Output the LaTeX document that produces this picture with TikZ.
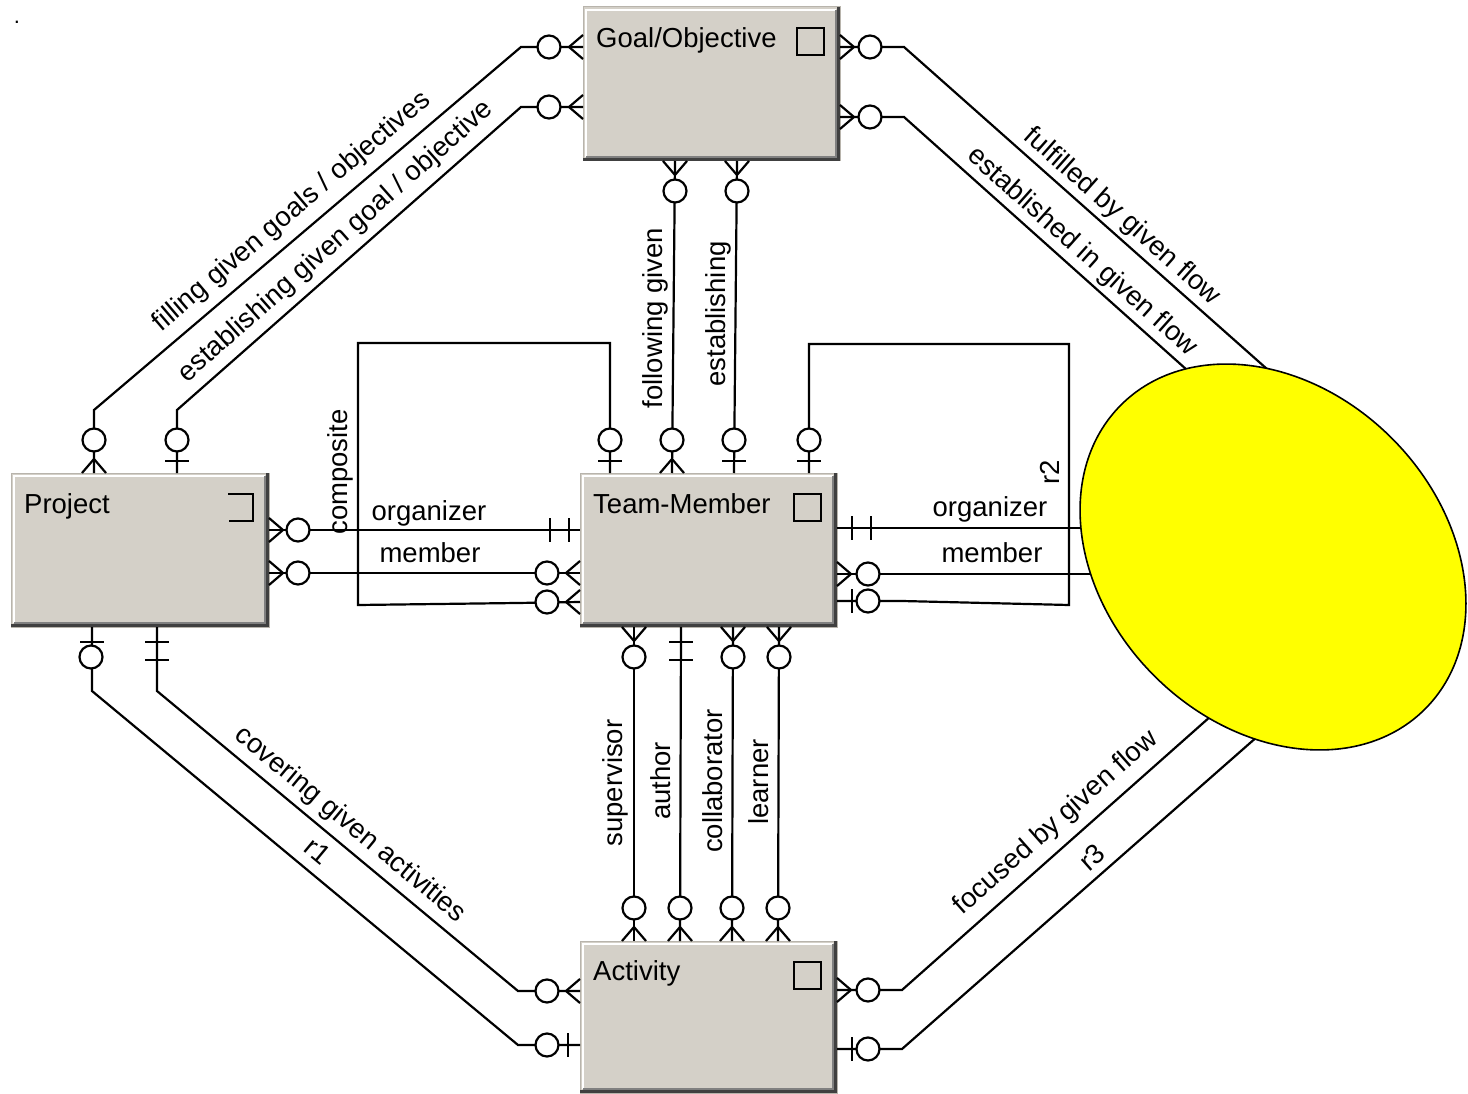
\documentclass[tikz,border=0pt]{standalone}
\usepackage{fontspec}
\setmainfont{Liberation Sans}
\usetikzlibrary{shapes.geometric}
\definecolor{boxgray}{HTML}{D4D0C8}
\definecolor{boxedge}{HTML}{B8B4AC}
\definecolor{bevdark}{HTML}{404040}
\definecolor{bevmid}{HTML}{808080}
\definecolor{flowfill}{HTML}{FFFF00}

% crow's feet whose toes sit on a box edge
\newcommand{\cfW}[2]{\draw[conn] (#1,#2-12) -- (#1-14,#2) -- (#1,#2+12);}
\newcommand{\cfE}[2]{\draw[conn] (#1,#2-12) -- (#1+14,#2) -- (#1,#2+12);}
\newcommand{\cfN}[2]{\draw[conn] (#1-12,#2) -- (#1,#2-14) -- (#1+12,#2);}
\newcommand{\cfS}[2]{\draw[conn] (#1-12,#2) -- (#1,#2+14) -- (#1+12,#2);}
% optional ring and bars
\newcommand{\oring}[2]{\draw[conn, fill=white] (#1,#2) circle[radius=11.5];}
\newcommand{\tickV}[2]{\draw[conn] (#1,#2-12) -- (#1,#2+12);}
\newcommand{\tickH}[2]{\draw[conn] (#1-12,#2) -- (#1+12,#2);}
% raised bevel of an entity box: x0 y0 x1 y1
\newcommand{\bevel}[4]{%
  \draw[white, line width=2pt] (#1+3,#4-4) -- (#1+3,#2+3) -- (#3-4,#2+3);
  \draw[bevmid, line width=1.5pt] (#1+3,#4-4) -- (#3-4,#4-4) -- (#3-4,#2+3);
  \draw[bevdark, line width=3pt] (#1,#4-1.5) -- (#3-1.5,#4-1.5) -- (#3-1.5,#2);
}
\newcommand{\sqicon}[2]{\draw[icon] (#1-43,#2+21) rectangle (#1-16,#2+48);}

\begin{document}
\begin{tikzpicture}[x=1pt, y=-1pt,
  conn/.style={line width=2.2pt, black},
  icon/.style={line width=2.4pt, black},
  ebox/.style={rectangle, fill=boxgray, draw=boxedge, line width=1pt,
               inner sep=0pt, outer sep=0pt, anchor=north west},
  lbl/.style={font=\fontsize{27.5}{32}\selectfont, inner sep=0pt},
  title/.style={lbl, anchor=base west}]
\useasboundingbox (0,0) rectangle (1468,1094);

\node[inner sep=0pt, anchor=base, font=\fontsize{22}{26}\selectfont] (dot) at (17,24) {.};

% ---- entity boxes ----
\node[ebox, minimum width=257pt, minimum height=154pt] (goal) at (583,7) {};
\bevel{583}{7}{840}{161}
\sqicon{840}{7}
\node[title] (goalt) at (596,48) {Goal/Objective};

\node[ebox, minimum width=258pt, minimum height=154pt] (project) at (11,473) {};
\bevel{11}{473}{269}{627}
\draw[icon] (228,494) -- (253,494) -- (253,521) -- (229,521);
\node[title] (projectt) at (24,513) {Project};

\node[ebox, minimum width=257pt, minimum height=154pt] (team) at (580,473) {};
\bevel{580}{473}{837}{627}
\sqicon{837}{473}
\node[title] (teamt) at (593,513) {Team-Member};

\node[ebox, minimum width=257pt, minimum height=152pt] (activity) at (580,941) {};
\bevel{580}{941}{837}{1093}
\sqicon{837}{941}
\node[title] (activityt) at (593,980) {Activity};

% ---- connector end points ----
\coordinate (gA) at (583,47);   \coordinate (pA) at (94,473);
\coordinate (gB) at (583,107);  \coordinate (pB) at (177,473);
\coordinate (gC) at (840,47);   \coordinate (fC) at (1267,369);
\coordinate (gD) at (840,117);  \coordinate (fD) at (1187,370);
\coordinate (gE) at (675,161);  \coordinate (tE) at (672,473);
\coordinate (gF) at (737,161);  \coordinate (tF) at (734,473);
\coordinate (tG1) at (610,473); \coordinate (tG2) at (580,602);
\coordinate (pH) at (269,530);  \coordinate (tH) at (580,530);
\coordinate (pI) at (269,573);  \coordinate (tI) at (580,573);
\coordinate (tJ) at (837,528);  \coordinate (fJ) at (1085,528);
\coordinate (tK) at (837,574);  \coordinate (fK) at (1095,574);
\coordinate (tL1) at (837,601); \coordinate (tL2) at (809,473);
\coordinate (pM) at (92,627);   \coordinate (aM) at (580,1045);
\coordinate (pN) at (157,627);  \coordinate (aN) at (580,991);
\coordinate (aO) at (837,990);  \coordinate (fO) at (1211,716);
\coordinate (aP) at (837,1049); \coordinate (fP) at (1258,736);
\coordinate (tQ) at (634,627);  \coordinate (aQ) at (634,941);
\coordinate (tR) at (681,627);  \coordinate (aR) at (680,941);
\coordinate (tS) at (733,627);  \coordinate (aS) at (732,941);
\coordinate (tT) at (779,627);  \coordinate (aT) at (778,941);

% ---- connectors ----
\draw[conn] (gA) -- (521,47) -- (94,410) -- (pA);
\draw[conn] (gB) -- (521,107) -- (177,410) -- (pB);
\draw[conn] (gC) -- (904,47) -- (fC);
\draw[conn] (gD) -- (904,117) -- (fD);
\draw[conn] (gE) -- (tE);
\draw[conn] (gF) -- (tF);
\draw[conn] (tG1) -- (610,343) -- (358,343) -- (358,605) -- (517,603) -- (tG2);
\draw[conn] (pH) -- (tH);
\draw[conn] (pI) -- (tI);
\draw[conn] (tJ) -- (fJ);
\draw[conn] (tK) -- (fK);
\draw[conn] (tL1) -- (902,601) -- (1069,605) -- (1069,344) -- (809,344) -- (tL2);
\draw[conn] (pM) -- (92,691) -- (518,1045) -- (aM);
\draw[conn] (pN) -- (157,691) -- (518,991) -- (aN);
\draw[conn] (aO) -- (902,990) -- (fO);
\draw[conn] (aP) -- (902,1049) -- (fP);
\draw[conn] (tQ) -- (aQ);
\draw[conn] (tR) -- (aR);
\draw[conn] (tS) -- (aS);
\draw[conn] (tT) -- (aT);

% ---- cardinality marks ----
\cfW{583}{47}  \oring{549}{47}
\cfN{94}{473}  \oring{94}{440}
\cfW{583}{107} \oring{549}{107}
\tickH{177}{461} \oring{177}{440}
\cfE{840}{47}  \oring{870}{47}
\cfE{840}{117} \oring{870}{117}
\cfS{675}{161} \oring{675}{191}
\cfN{672}{473} \oring{672}{440}
\cfS{737}{161} \oring{737}{191}
\tickH{734}{461} \oring{734}{440}
\tickH{610}{461} \oring{610}{440}
\cfW{580}{602} \oring{547}{602}
\cfE{269}{530} \oring{298}{530}
\tickV{550}{530} \tickV{569}{530}
\cfE{269}{573} \oring{298}{573}
\cfW{580}{573} \oring{547}{573}
\tickV{852}{528} \tickV{871}{528}
\cfE{837}{574} \oring{868}{574}
\tickV{852}{601} \oring{868}{601}
\tickH{809}{461} \oring{809}{440}
\tickH{92}{642} \oring{91}{657}
\tickV{568}{1045} \oring{547}{1045}
\tickH{157}{642} \tickH{157}{660}
\cfW{580}{991} \oring{547}{991}
\cfE{837}{990} \oring{868}{990}
\tickV{852}{1049} \oring{868}{1049}
\cfS{634}{627} \oring{634}{657}
\cfN{634}{941} \oring{634}{908}
\tickH{681}{642} \tickH{681}{660}
\cfN{680}{941} \oring{680}{908}
\cfS{733}{627} \oring{733}{657}
\cfN{732}{941} \oring{732}{908}
\cfS{779}{627} \oring{779}{657}
\cfN{778}{941} \oring{778}{908}

% ---- relationship labels ----
\node[lbl, rotate=40.4] (lA) at (292,212) {filling given goals / objectives};
\node[lbl, rotate=41.5] (lB) at (336,242) {establishing given goal / objective};
\node[lbl, rotate=-41.5] (lC) at (1122,217) {fulfilled by given flow};
\node[lbl, rotate=-41.8] (lD) at (1082,252) {established in given flow};
\node[lbl, rotate=90, anchor=base] (lE) at (662,318) {following given};
\node[lbl, rotate=90, anchor=base] (lF) at (725,314) {establishing};
\node[lbl, rotate=90, anchor=base] (lG) at (347,472) {composite};
\node[lbl, anchor=base] (lH) at (429,520) {organizer};
\node[lbl, anchor=base] (lI) at (430,562) {member};
\node[lbl, anchor=base] (lJ) at (990,516) {organizer};
\node[lbl, anchor=base] (lK) at (992,562) {member};
\node[lbl, rotate=90, anchor=base] (lL) at (1059,472) {r2};
\node[lbl, rotate=-39.7] (lM) at (318,851) {r1};
\node[lbl, rotate=-39.6] (lN) at (350,825) {covering given activities};
\node[lbl, rotate=41.6] (lO) at (1056,823) {focused by given flow};
\node[lbl, rotate=41.4] (lP) at (1092,857) {r3};
\node[lbl, rotate=90, anchor=base] (lQ) at (622,783) {supervisor};
\node[lbl, rotate=90, anchor=base] (lR) at (670,781) {author};
\node[lbl, rotate=90, anchor=base] (lS) at (722,781) {collaborator};
\node[lbl, rotate=90, anchor=base] (lT) at (768,782) {learner};

% ---- the flow ellipse, drawn over the connector ends ----
\node[ellipse, draw=black, fill=flowfill, line width=1.6pt, inner sep=0pt,
      minimum width=430pt, minimum height=336pt, rotate=-45] (flow) at (1273,557) {};
\end{tikzpicture}
\end{document}
